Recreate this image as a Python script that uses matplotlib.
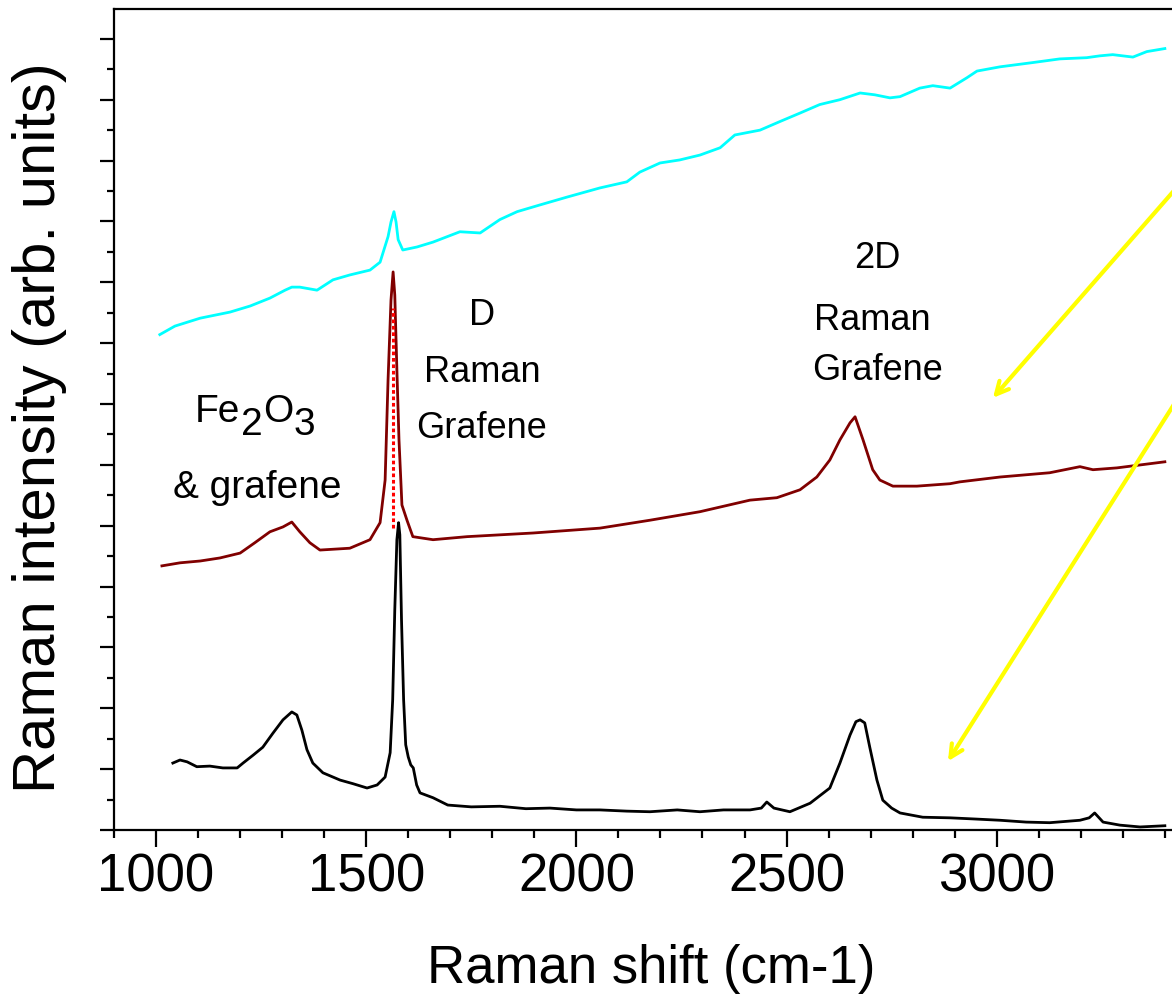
import matplotlib
matplotlib.use("Agg")
import matplotlib.pyplot as plt
from matplotlib.ticker import MultipleLocator, NullFormatter

FONT = "Liberation Sans"

# ---------------- data (Raman shift in cm-1, intensity in arb. units) -------------
black_x = [1040, 1057, 1074, 1097, 1128, 1159, 1193, 1207, 1231, 1254, 1278, 1302, 1323,
           1335, 1347, 1359, 1373, 1397, 1438, 1469, 1502, 1526, 1545, 1557, 1563, 1568,
           1573, 1577, 1580, 1584, 1589, 1594, 1600, 1606, 1612, 1620, 1628, 1659, 1694,
           1750, 1818, 1880, 1937, 2000, 2056, 2120, 2175, 2240, 2294, 2350, 2413, 2440,
           2453, 2470, 2508, 2556, 2603, 2627, 2651, 2665, 2675, 2686, 2698, 2715, 2729,
           2750, 2770, 2824, 2889, 2950, 3008, 3070, 3126, 3198, 3220, 3233, 3253, 3293,
           3341, 3400]
black_y = [1.10, 1.15, 1.12, 1.04, 1.05, 1.02, 1.02, 1.10, 1.23, 1.36, 1.59, 1.81, 1.94,
           1.89, 1.64, 1.32, 1.10, 0.94, 0.82, 0.76, 0.69, 0.74, 0.87, 1.27, 2.14, 3.62,
           4.77, 5.05, 4.85, 3.45, 2.14, 1.40, 1.20, 1.07, 1.02, 0.74, 0.61, 0.53, 0.41,
           0.38, 0.39, 0.35, 0.36, 0.33, 0.33, 0.31, 0.30, 0.33, 0.30, 0.33, 0.33, 0.36,
           0.46, 0.36, 0.30, 0.44, 0.69, 1.10, 1.56, 1.78, 1.81, 1.76, 1.36, 0.82, 0.49,
           0.36, 0.28, 0.21, 0.20, 0.18, 0.16, 0.13, 0.12, 0.16, 0.20, 0.28, 0.13, 0.08,
           0.05, 0.07]

maroon_x = [1014, 1057, 1105, 1152, 1200, 1235, 1271, 1302, 1323, 1342, 1366, 1390, 1461,
            1509, 1533, 1545, 1552, 1559, 1564, 1568, 1573, 1578, 1585, 1597, 1611, 1659,
            1740, 1897, 2056, 2175, 2294, 2413, 2477, 2532, 2572, 2603, 2627, 2651, 2663,
            2682, 2705, 2722, 2753, 2810, 2889, 2912, 3008, 3126, 3198, 3229, 3286, 3400]
maroon_y = [4.34, 4.39, 4.42, 4.47, 4.55, 4.72, 4.90, 4.98, 5.06, 4.90, 4.72, 4.60, 4.63,
            4.77, 5.05, 5.75, 7.40, 8.71, 9.17, 8.79, 7.56, 6.41, 5.34, 5.09, 4.82, 4.77,
            4.82, 4.88, 4.96, 5.09, 5.23, 5.42, 5.46, 5.59, 5.80, 6.08, 6.41, 6.69, 6.79,
            6.41, 5.92, 5.75, 5.65, 5.65, 5.69, 5.72, 5.80, 5.87, 5.97, 5.92, 5.95, 6.05]

cyan_x = [1009, 1045, 1105, 1176, 1224, 1271, 1307, 1323, 1342, 1383, 1421, 1461, 1509,
          1533, 1552, 1559, 1566, 1571, 1576, 1587, 1621, 1659, 1723, 1771, 1818, 1859,
          1913, 1978, 2056, 2120, 2151, 2199, 2246, 2294, 2342, 2377, 2437, 2484, 2532,
          2579, 2627, 2675, 2710, 2746, 2770, 2817, 2848, 2889, 2929, 2953, 3008, 3086,
          3150, 3214, 3245, 3276, 3324, 3357, 3400]
cyan_y = [8.14, 8.28, 8.41, 8.51, 8.61, 8.74, 8.87, 8.92, 8.92, 8.87, 9.04, 9.12, 9.20,
          9.33, 9.75, 9.99, 10.16, 9.99, 9.70, 9.53, 9.58, 9.66, 9.83, 9.81, 10.03, 10.16,
          10.27, 10.40, 10.55, 10.65, 10.81, 10.96, 11.01, 11.09, 11.21, 11.42, 11.50,
          11.64, 11.78, 11.92, 12.00, 12.11, 12.08, 12.03, 12.05, 12.19, 12.23, 12.19,
          12.36, 12.47, 12.54, 12.61, 12.67, 12.69, 12.72, 12.74, 12.70, 12.79, 12.84]

g_peak_x = 1564
g_peak_y = [4.96, 8.58]

xlim = (900, 3417)
ylim = (0, 13.49)

# ---------------- figure ----------------
W, H = 1172, 996
fig = plt.figure(figsize=(W / 100, H / 100), dpi=100)
ax = fig.add_axes([114 / W, 1 - 830 / H, (W - 114) / W, (830 - 9) / H])

ax.plot(cyan_x, cyan_y, color="#00FFFF", lw=2.0)
ax.plot(maroon_x, maroon_y, color="#800000", lw=2.0)
ax.plot(black_x, black_y, color="black", lw=2.0)
ax.plot([g_peak_x, g_peak_x], g_peak_y, color="red", lw=2.2, dashes=(1.2, 0.9))

ax.set_xlim(*xlim)
ax.set_ylim(*ylim)

for s in ("left", "bottom", "top"):
    ax.spines[s].set_linewidth(1.6)
ax.spines["right"].set_visible(False)

ax.xaxis.set_major_locator(MultipleLocator(500))
ax.xaxis.set_minor_locator(MultipleLocator(100))
ax.yaxis.set_major_locator(MultipleLocator(1))
ax.yaxis.set_minor_locator(MultipleLocator(0.5))
ax.yaxis.set_major_formatter(NullFormatter())
ax.tick_params(axis="x", which="major", direction="out", length=12, width=1.6, pad=4,
               labelsize=38)
ax.tick_params(axis="x", which="minor", direction="out", length=6, width=1.6)
ax.tick_params(axis="y", which="major", direction="out", length=10, width=1.6)
ax.tick_params(axis="y", which="minor", direction="out", length=5, width=1.6)
ax.tick_params(top=False, right=False, which="both")
for lab in ax.get_xticklabels():
    lab.set_fontfamily(FONT)

# axis labels
fig.text(651 / W, 1 - 983 / H, "Raman shift (cm-1)", fontsize=38, family=FONT,
         ha="center", va="baseline")
fig.text(40 / W, 1 - 428 / H, "Raman intensity (arb. units)", fontsize=43, family=FONT,
         ha="center", va="center", rotation=90)


def ptext(px, py, s, size=26, ha="center"):
    return fig.text(px / W, 1 - py / H, s, fontsize=size, family=FONT, ha=ha,
                    va="baseline")


# Fe2O3 with full-size, lowered digits (laid out piece by piece)
renderer = fig.canvas.get_renderer()
pieces = [("Fe", 422), ("2", 435), ("O", 422), ("3", 435)]
cur_x = 195
for s, base in pieces:
    t = ptext(cur_x, base, s, 28, "left")
    bb = t.get_window_extent(renderer)
    cur_x += bb.width + 0.5

ptext(257, 498, "& grafene", 28)
ptext(482, 325, "D")
ptext(482, 382, "Raman")
ptext(482, 438, "Grafene")
ptext(877, 268, "2D")
ptext(872, 330, "Raman")
ptext(878, 380, "Grafene")

arrow_tips = [(2991, 7.10), (2884, 1.13)]
arrow_tails = [(3602, 11.93), (3602, 8.96)]
for tip, tail in zip(arrow_tips, arrow_tails):
    ax.annotate("", xy=tip, xytext=tail, annotation_clip=False,
                arrowprops=dict(arrowstyle="->,head_length=0.9,head_width=0.45",
                                color="#FFFF00", lw=3, shrinkA=0, shrinkB=0))

fig.savefig("out.png", dpi=100)
